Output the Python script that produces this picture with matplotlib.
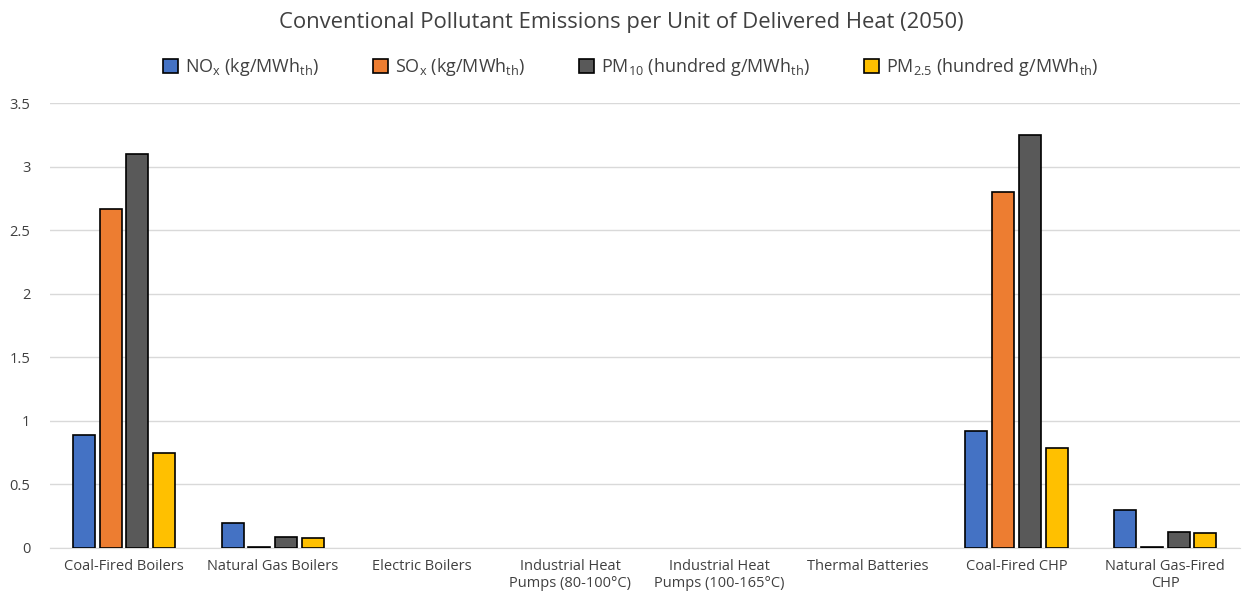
import matplotlib
matplotlib.use("Agg")
import matplotlib.pyplot as plt
import numpy as np

plt.rcParams["font.family"] = ["Open Sans", "DejaVu Sans"]

# ── Data ─────────────────────────────────────────────────────────────────────
categories = [
    "Coal-Fired Boilers", "Natural Gas Boilers", "Electric Boilers",
    "Industrial Heat\nPumps (80-100°C)", "Industrial Heat\nPumps (100-165°C)",
    "Thermal Batteries", "Coal-Fired CHP", "Natural Gas-Fired\nCHP",
]
nox  = [0.888, 0.196, 0, 0, 0, 0, 0.92, 0.30]
sox  = [2.67, 0.008, 0, 0, 0, 0, 2.80, 0.006]
pm10 = [3.10, 0.086, 0, 0, 0, 0, 3.25, 0.126]
pm25 = [0.746, 0.079, 0, 0, 0, 0, 0.785, 0.118]

series = [
    (nox,  r"NO$_\mathregular{x}$ (kg/MWh$_\mathregular{th}$)", "#4472C4"),
    (sox,  r"SO$_\mathregular{x}$ (kg/MWh$_\mathregular{th}$)", "#ED7D31"),
    (pm10, r"PM$_\mathregular{10}$ (hundred g/MWh$_\mathregular{th}$)", "#595959"),
    (pm25, r"PM$_\mathregular{2.5}$ (hundred g/MWh$_\mathregular{th}$)", "#FFC000"),
]

# ── Plot ─────────────────────────────────────────────────────────────────────
fig = plt.figure(figsize=(12.42, 6), dpi=100)
ax = fig.add_axes([0.040, 0.087, 0.958, 0.741])

x = np.arange(len(categories))
step, w = 0.18, 0.148
for i, (vals, label, color) in enumerate(series):
    # zero values are not drawn (no outline), like the source chart
    v = np.array(vals, dtype=float)
    v[v == 0] = np.nan
    ax.bar(x + (i - 1.5) * step, v, w, color=color, edgecolor="black",
           linewidth=1.2, label=label, zorder=3)

ax.set_xlim(-0.5, len(categories) - 0.5)
ax.set_ylim(0, 3.5)
ax.set_yticks(np.arange(0, 3.51, 0.5))
ax.set_yticklabels(["0", "0.5", "1", "1.5", "2", "2.5", "3", "3.5"])
ax.set_xticks(x)
ax.set_xticklabels(categories)
ax.tick_params(axis="both", length=0, labelsize=10.5, colors="#404040")
ax.tick_params(axis="y", pad=14)
ax.tick_params(axis="x", pad=8)
ax.grid(axis="y", color="#d9d9d9", linewidth=1, zorder=0)
for s in ["top", "right", "left"]:
    ax.spines[s].set_visible(False)
ax.spines["bottom"].set_color("#d9d9d9")

fig.text(0.5, 0.962, "Conventional Pollutant Emissions per Unit of Delivered Heat (2050)",
         ha="center", va="center", fontsize=15.8, color="#404040")
fig.legend(loc="center", bbox_to_anchor=(0.508, 0.888), ncol=4, frameon=False,
           fontsize=13, handlelength=0.8, handleheight=0.8, handletextpad=0.4,
           columnspacing=3.0, labelcolor="#404040")

fig.savefig("out.png", dpi=100)
